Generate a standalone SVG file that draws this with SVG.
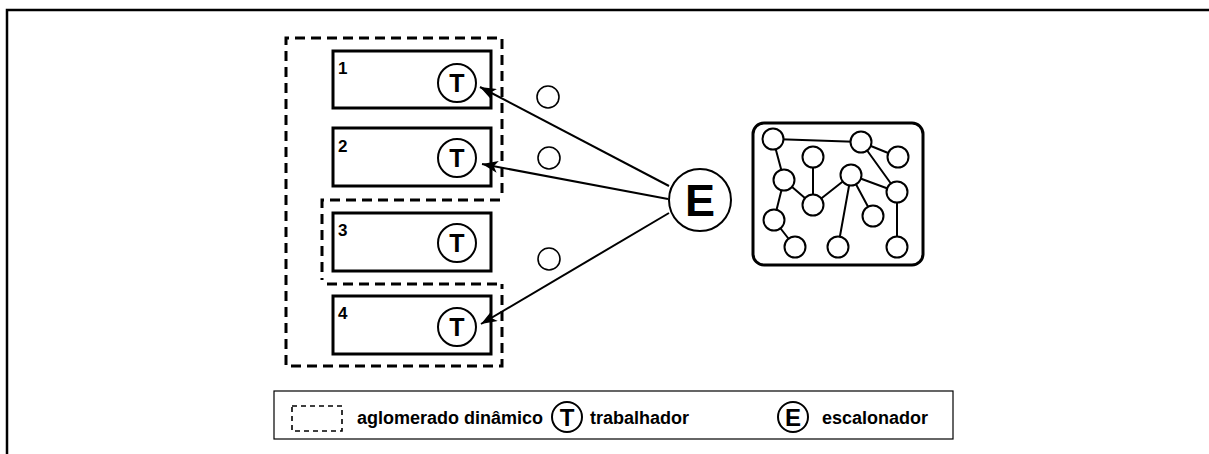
<svg xmlns="http://www.w3.org/2000/svg" width="1209" height="454" viewBox="0 0 1209 454">
<style>
.frame{fill:none;stroke:#000;stroke-width:2.5}
.dash{fill:none;stroke:#000;stroke-width:3;stroke-dasharray:10 6}
.box{fill:#fff;stroke:#000;stroke-width:3}
.tc{fill:#fff;stroke:#000;stroke-width:2}
.sc{fill:#fff;stroke:#000;stroke-width:1.6}
.num{font-family:"Liberation Sans",Arial,sans-serif;font-weight:bold;font-size:17px;fill:#000}
.tl{font-family:"Liberation Sans",Arial,sans-serif;font-weight:bold;font-size:25px;fill:#000;text-anchor:middle}
.el{font-family:"Liberation Sans",Arial,sans-serif;font-weight:bold;font-size:45px;fill:#000;text-anchor:middle}
.conn{stroke:#000;stroke-width:2;fill:none}
.net{stroke:#000;stroke-width:2;fill:none}
.nn{fill:#fff;stroke:#000;stroke-width:2}
.leg{font-family:"Liberation Sans",Arial,sans-serif;font-weight:bold;font-size:18px;fill:#000}
.legsym{font-family:"Liberation Sans",Arial,sans-serif;font-weight:bold;font-size:24px;fill:#000;text-anchor:middle}
</style>
<defs>
<marker id="arr" markerUnits="userSpaceOnUse" markerWidth="17" markerHeight="12" refX="16" refY="6" orient="auto">
<path d="M0,0 L16,6 L0,12 L4,6 z" fill="#000"/>
</marker>
</defs>
<rect width="1209" height="454" fill="#fff"/>
<path class="frame" d="M7,454 L7,10 L1209,10"/>

<g id="clusters">
<path class="dash" d="M502,193 L502,38 L286,38 L286,366 L502,366 L502,284"/>
<path class="dash" d="M500,200 L322,200 L322,280"/>
<path class="dash" d="M327,284 L502,284"/>
</g>

<g id="worker1">
<rect class="box" x="333" y="51" width="158" height="57"/>
<text class="num" x="338" y="74">1</text>
<circle class="tc" cx="457" cy="83" r="19"/>
<text class="tl" x="457" y="92">T</text>
</g>
<g id="worker2">
<rect class="box" x="333" y="128" width="158" height="58"/>
<text class="num" x="338" y="152">2</text>
<circle class="tc" cx="457" cy="158" r="19"/>
<text class="tl" x="457" y="167">T</text>
</g>
<g id="worker3">
<rect class="box" x="333" y="213" width="158" height="58"/>
<text class="num" x="338" y="236">3</text>
<circle class="tc" cx="457" cy="243" r="19"/>
<text class="tl" x="457" y="252">T</text>
</g>
<g id="worker4">
<rect class="box" x="333" y="296" width="158" height="58"/>
<text class="num" x="338" y="319">4</text>
<circle class="tc" cx="457" cy="327" r="19"/>
<text class="tl" x="457" y="336">T</text>
</g>

<g id="tasks">
<circle class="sc" cx="548" cy="97" r="11"/>
<circle class="sc" cx="549" cy="158" r="11"/>
<circle class="sc" cx="549" cy="259" r="11"/>
</g>

<g id="scheduler">
<circle class="tc" cx="700" cy="200" r="31"/>
<text class="el" x="700" y="216">E</text>
</g>

<g id="connectors">
<line class="conn" x1="669" y1="186" x2="480" y2="87" marker-end="url(#arr)"/>
<line class="conn" x1="668" y1="199" x2="482" y2="164" marker-end="url(#arr)"/>
<line class="conn" x1="669" y1="213" x2="481" y2="324" marker-end="url(#arr)"/>
</g>

<g id="graph">
<rect x="753" y="123" width="170" height="142" rx="11" ry="11" fill="#fff" stroke="#000" stroke-width="3"/>
<path class="net" d="M773,139 L861,142 M861,142 L898,157 M861,142 L897,192 M773,139 L784,180 M784,180 L774,220 M774,220 L795,247 M784,180 L813,205 M813,157 L813,205 M813,205 L851,175 M851,175 L838,247 M851,175 L873,216 M851,175 L897,192 M897,192 L897,247"/>
<circle class="nn" cx="773" cy="139" r="10.5"/>
<circle class="nn" cx="861" cy="142" r="10.5"/>
<circle class="nn" cx="898" cy="157" r="10.5"/>
<circle class="nn" cx="813" cy="157" r="10.5"/>
<circle class="nn" cx="784" cy="180" r="10.5"/>
<circle class="nn" cx="851" cy="175" r="10.5"/>
<circle class="nn" cx="897" cy="192" r="10.5"/>
<circle class="nn" cx="813" cy="205" r="10.5"/>
<circle class="nn" cx="873" cy="216" r="10.5"/>
<circle class="nn" cx="774" cy="220" r="10.5"/>
<circle class="nn" cx="795" cy="247" r="10.5"/>
<circle class="nn" cx="838" cy="247" r="10.5"/>
<circle class="nn" cx="897" cy="247" r="10.5"/>
</g>

<g id="legend">
<rect x="274" y="391" width="679" height="48" fill="#fff" stroke="#000" stroke-width="1.2"/>
<rect x="292" y="406" width="50" height="25" fill="none" stroke="#000" stroke-width="1.6" stroke-dasharray="5 4"/>
<text class="leg" x="357" y="424">aglomerado dinâmico</text>
<circle class="tc" cx="567" cy="417" r="15"/>
<text class="legsym" x="567" y="426">T</text>
<text class="leg" x="590" y="424">trabalhador</text>
<circle class="tc" cx="793" cy="417" r="15"/>
<text class="legsym" x="793" y="426">E</text>
<text class="leg" x="822" y="424">escalonador</text>
</g>
</svg>
